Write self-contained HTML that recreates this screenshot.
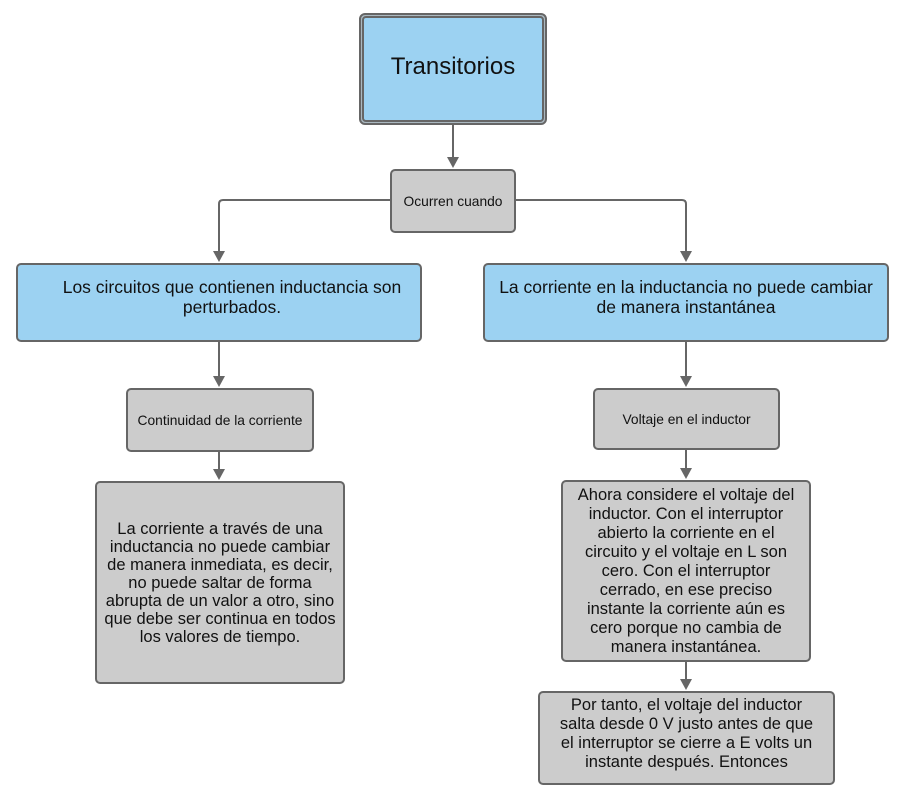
<!DOCTYPE html>
<html><head><meta charset="utf-8"><style>
body{margin:0;width:908px;height:795px;background:#fff;position:relative;overflow:hidden;font-family:"Liberation Sans",sans-serif;color:#111}
.b{position:absolute;box-sizing:border-box;border:2px solid #666;border-radius:5px;display:flex;align-items:center;justify-content:center;text-align:center;white-space:nowrap}
.g{background:#cccccc}
.bl{background:#9cd2f2}
svg{position:absolute;left:0;top:0}
</style></head><body>
<svg width="908" height="795">
<g stroke="#666" stroke-width="2" fill="none">
<path d="M453 124V158"/>
<path d="M390 200H223Q219 200 219 204V252"/>
<path d="M515 200H682Q686 200 686 204V252"/>
<path d="M219 341V377"/><path d="M686 341V377"/>
<path d="M219 451V470"/><path d="M686 449V469"/>
<path d="M686 661V680"/>
</g>
<g fill="#666">
<path d="M447 157L459 157L453 168Z"/>
<path d="M213 251L225 251L219 262Z"/>
<path d="M680 251L692 251L686 262Z"/>
<path d="M213 376L225 376L219 387Z"/>
<path d="M680 376L692 376L686 387Z"/>
<path d="M213 469L225 469L219 480Z"/>
<path d="M680 468L692 468L686 479Z"/>
<path d="M680 679L692 679L686 690Z"/>
</g>
</svg>
<div class="b" style="left:359px;top:13px;width:188px;height:112px;border:2px solid #666;border-radius:6px;padding:0;background:#aab8c0"></div>
<div class="b bl" style="left:362px;top:16px;width:182px;height:106px;font-size:24px;border-radius:4px;padding-bottom:4px">Transitorios</div>
<div class="b g" style="left:390px;top:169px;width:126px;height:64px;font-size:13.8px">Ocurren cuando</div>
<div class="b bl" style="left:16px;top:263px;width:406px;height:79px;font-size:17.5px;line-height:20px;padding:0 0 12px 26px">Los circuitos que contienen inductancia son<br>perturbados.</div>
<div class="b bl" style="left:483px;top:263px;width:406px;height:79px;font-size:17.5px;line-height:20px;padding:0 0 12px">La corriente en la inductancia no puede cambiar<br>de manera instantánea</div>
<div class="b g" style="left:126px;top:388px;width:188px;height:64px;font-size:13.8px">Continuidad de la corriente</div>
<div class="b g" style="left:593px;top:388px;width:187px;height:62px;font-size:13.8px">Voltaje en el inductor</div>
<div class="b g" style="left:95px;top:481px;width:250px;height:203px;font-size:16.5px;line-height:18px;padding:0">La corriente a través de una<br>inductancia no puede cambiar<br>de manera inmediata, es decir,<br>no puede saltar de forma<br>abrupta de un valor a otro, sino<br>que debe ser continua en todos<br>los valores de tiempo.</div>
<div class="b g" style="left:561px;top:480px;width:250px;height:182px;font-size:16.5px;line-height:19px;padding:0">Ahora considere el voltaje del<br>inductor. Con el interruptor<br>abierto la corriente en el<br>circuito y el voltaje en L son<br>cero. Con el interruptor<br>cerrado, en ese preciso<br>instante la corriente aún es<br>cero porque no cambia de<br>manera instantánea.</div>
<div class="b g" style="left:538px;top:691px;width:297px;height:94px;font-size:16.5px;line-height:19px;padding:0 0 8px">Por tanto, el voltaje del inductor<br>salta desde 0 V justo antes de que<br>el interruptor se cierre a E volts un<br>instante después. Entonces</div>
</body></html>
